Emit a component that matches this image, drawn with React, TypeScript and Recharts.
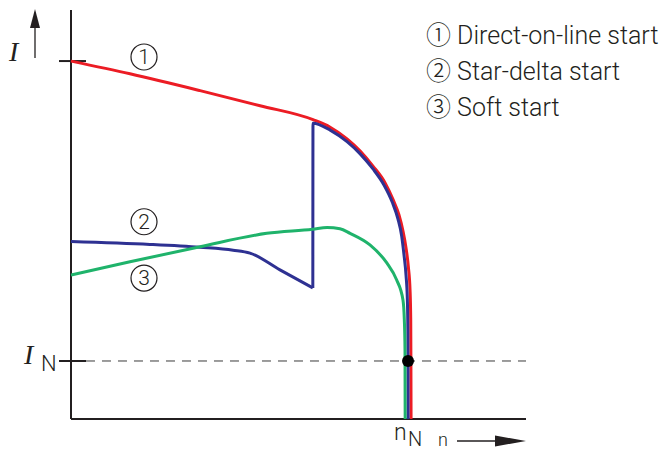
// Motor starting current vs speed: direct-on-line, star-delta and soft start.
// Axes are unitless — current as multiples of I_N, speed as multiples of n_N.

import { LineChart, Line, XAxis, YAxis, ReferenceLine, ReferenceDot } from "recharts";

// [n / n_N, I / I_N]
const DIRECT_ON_LINE = [
  [0, 6.17], [0.175, 5.95], [0.383, 5.66], [0.561, 5.4], [0.718, 5.16],
  [0.769, 5.03], [0.819, 4.83], [0.858, 4.62], [0.896, 4.36], [0.932, 4.07],
  [0.955, 3.79], [0.973, 3.52], [0.985, 3.24], [0.994, 2.95], [1.001, 2.62],
  [1.006, 2.22], [1.008, 1.71], [1.0085, 1.02], [1.009, 0],
];
const STAR = [
  [0, 3.06], [0.234, 3.01], [0.383, 2.96], [0.481, 2.91], [0.531, 2.86],
  [0.62, 2.57], [0.7175, 2.26],
];
const DELTA = [
  [0.7175, 2.26], [0.718, 5.1], [0.769, 4.98], [0.819, 4.78], [0.858, 4.57],
  [0.896, 4.31], [0.929, 4.03], [0.953, 3.74], [0.97, 3.45], [0.981, 3.16],
  [0.988, 2.83], [0.994, 2.48], [0.998, 2.05], [0.9995, 1.53], [1.0, 0.84],
  [1.0003, 0],
];
const SOFT = [
  [0, 2.48], [0.175, 2.71], [0.383, 2.97], [0.581, 3.2], [0.717, 3.27],
  [0.76, 3.3], [0.798, 3.28], [0.828, 3.2], [0.887, 3.0], [0.937, 2.69],
  [0.966, 2.4], [0.985, 2.05], [0.989, 1.71], [0.991, 1.19], [0.9915, 0],
];

const LEGEND = ["① Direct-on-line start", "② Star-delta start", "③ Soft start"];
// curve markers inside the plot: [n, I, label]
const MARKERS: [number, number, string][] = [
  [0.2166, 6.24, "1"],
  [0.2166, 3.4, "2"],
  [0.2166, 2.43, "3"],
];

const I_N = 1;
const N_N = 1;
const X_MAX = 1.35;
const Y_MAX = 7.05;

const RED = "#ec1c24";
const BLUE = "#2e3192";
const GREEN = "#1fb36b";
const INK = "#231f20";
const SANS = "Roboto, 'Noto Sans CJK JP', sans-serif";

const pts = (rows: number[][]) => rows.map(([n, i]) => ({ n, i }));

export default function App() {
  const lineProps = {
    dataKey: "i",
    type: "monotone" as const,
    dot: false,
    strokeWidth: 3,
    isAnimationActive: false,
    strokeLinejoin: "round" as const,
  };
  const tickL = -0.0356;
  const tickR = 0.0445;
  return (
    // the in-flow box keeps #root sized; the chart itself is pinned to the viewport
    <div style={{ width: 646, height: 434 }}>
      <div style={{ position: "fixed", left: 0, top: 0, width: 662, height: 450, background: "#fff" }}>
        <LineChart width={662} height={450} margin={{ top: 10, right: 136, bottom: 31, left: 71 }}>
          <XAxis type="number" dataKey="n" domain={[0, X_MAX]} hide />
          <YAxis type="number" domain={[0, Y_MAX]} hide />
          {/* axes */}
          <ReferenceLine
            segment={[{ x: 0, y: 0 }, { x: 0, y: Y_MAX }]}
            stroke={INK}
            strokeWidth={2}
            ifOverflow="visible"
          />
          <ReferenceLine
            segment={[{ x: 0, y: 0 }, { x: X_MAX, y: 0 }]}
            stroke={INK}
            strokeWidth={2}
            ifOverflow="visible"
          />
          {/* short ticks across the y axis */}
          <ReferenceLine
            segment={[{ x: tickL, y: DIRECT_ON_LINE[0][1] }, { x: tickR, y: DIRECT_ON_LINE[0][1] }]}
            stroke={INK}
            strokeWidth={2}
            ifOverflow="visible"
          />
          <ReferenceLine
            segment={[{ x: tickL, y: I_N }, { x: tickR, y: I_N }]}
            stroke={INK}
            strokeWidth={2}
            ifOverflow="visible"
          />
          <ReferenceLine
            segment={[{ x: tickR, y: I_N }, { x: X_MAX, y: I_N }]}
            stroke="#3a3a3a"
            strokeWidth={1}
            strokeDasharray="9 7"
          />
          <Line data={pts(DIRECT_ON_LINE)} stroke={RED} {...lineProps} />
          <Line data={pts(STAR)} stroke={BLUE} {...lineProps} />
          <Line data={pts(DELTA)} stroke={BLUE} {...lineProps} />
          <Line data={pts(SOFT)} stroke={GREEN} {...lineProps} />
          <ReferenceDot x={N_N} y={I_N} r={6} fill="#000" stroke="none" />
          {MARKERS.map(([n, i, t]) => (
            <ReferenceDot
              key={t}
              x={n}
              y={i}
              r={13}
              fill="#fff"
              stroke={INK}
              strokeWidth={1.2}
              label={{ value: t, position: "center", fill: INK, fontSize: 21, fontFamily: SANS, fontWeight: 300 }}
            />
          ))}
        </LineChart>

        {/* axis names and arrows */}
        <svg width={662} height={450} style={{ position: "absolute", left: 0, top: 0, pointerEvents: "none" }}>
          <text x={9} y={61} fontFamily="'Liberation Serif', serif" fontStyle="italic" fontSize={28} fill={INK}>I</text>
          <line x1={35} y1={58} x2={35} y2={26} stroke={INK} strokeWidth={1.3} />
          <polygon points="35,9 30,28 40,28" fill={INK} />
          <text x={24} y={364} fontFamily="'Liberation Serif', serif" fontStyle="italic" fontSize={28} fill={INK}>I</text>
          <text x={41} y={371} fontFamily={SANS} fontWeight={300} fontSize={22} fill={INK}>N</text>
          <text x={394} y={440} fontFamily={SANS} fontWeight={300} fontSize={23} fill={INK}>n</text>
          <text x={408} y={446} fontFamily={SANS} fontWeight={300} fontSize={20} fill={INK}>N</text>
          <text x={438} y={446} fontFamily={SANS} fontWeight={300} fontSize={18} fill={INK}>n</text>
          <line x1={457} y1={441} x2={498} y2={441} stroke={INK} strokeWidth={1.3} />
          <polygon points="495,435.5 526,441 495,446.5" fill={INK} />
        </svg>

        <div style={{ position: "absolute", left: 426, top: 18, fontFamily: SANS, fontWeight: 300, fontSize: 25, color: INK, lineHeight: "36px" }}>
          {LEGEND.map((t) => (
            <div key={t} style={{ whiteSpace: "nowrap" }}>{t}</div>
          ))}
        </div>
      </div>
    </div>
  );
}
